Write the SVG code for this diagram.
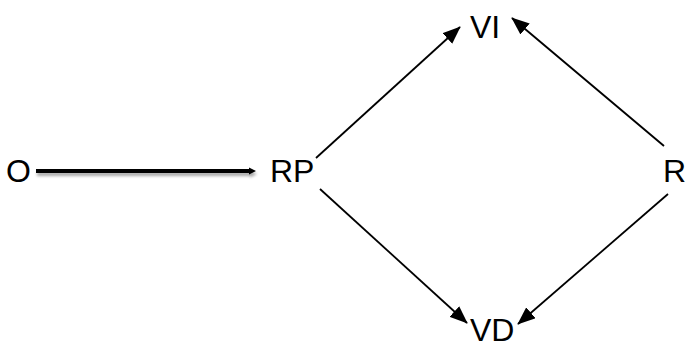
<svg xmlns="http://www.w3.org/2000/svg" width="696" height="344" viewBox="0 0 696 344">
<style>
text{font-family:"Liberation Sans",Arial,sans-serif;font-size:32px;fill:#000}
.c{stroke:#000;stroke-width:1.8;fill:none}
</style>
<defs>
<marker id="ah" markerWidth="10" markerHeight="8" refX="9.5" refY="4" orient="auto" markerUnits="strokeWidth"><path d="M0,0 L10,4 L0,8 z" fill="#000"/></marker>
<filter id="shadow" filterUnits="userSpaceOnUse" x="20" y="155" width="260" height="35"><feGaussianBlur in="SourceAlpha" stdDeviation="1.5"/><feOffset dx="1" dy="3" result="b"/><feComponentTransfer><feFuncA type="linear" slope="0.35"/></feComponentTransfer><feMerge><feMergeNode/><feMergeNode in="SourceGraphic"/></feMerge></filter>
</defs>
<g id="connectors">
<g filter="url(#shadow)">
<line x1="36" y1="171" x2="250" y2="171" stroke="#000" stroke-width="4"/>
<path d="M249,167.5 L256,171 L249,174.5 z" fill="#000"/>
</g>
<line class="c" x1="316" y1="158" x2="460" y2="27" marker-end="url(#ah)"/>
<line class="c" x1="664" y1="146" x2="512" y2="18" marker-end="url(#ah)"/>
<line class="c" x1="668" y1="194" x2="518" y2="324" marker-end="url(#ah)"/>
<line class="c" x1="320" y1="189" x2="467" y2="323" marker-end="url(#ah)"/>
</g>
<g id="O"><text x="6" y="182">O</text></g>
<g id="RP"><text x="270" y="182">RP</text></g>
<g id="VI"><text x="470" y="38">VI</text></g>
<g id="VD"><text x="470" y="341">VD</text></g>
<g id="R"><text x="663" y="182">R</text></g>
</svg>
